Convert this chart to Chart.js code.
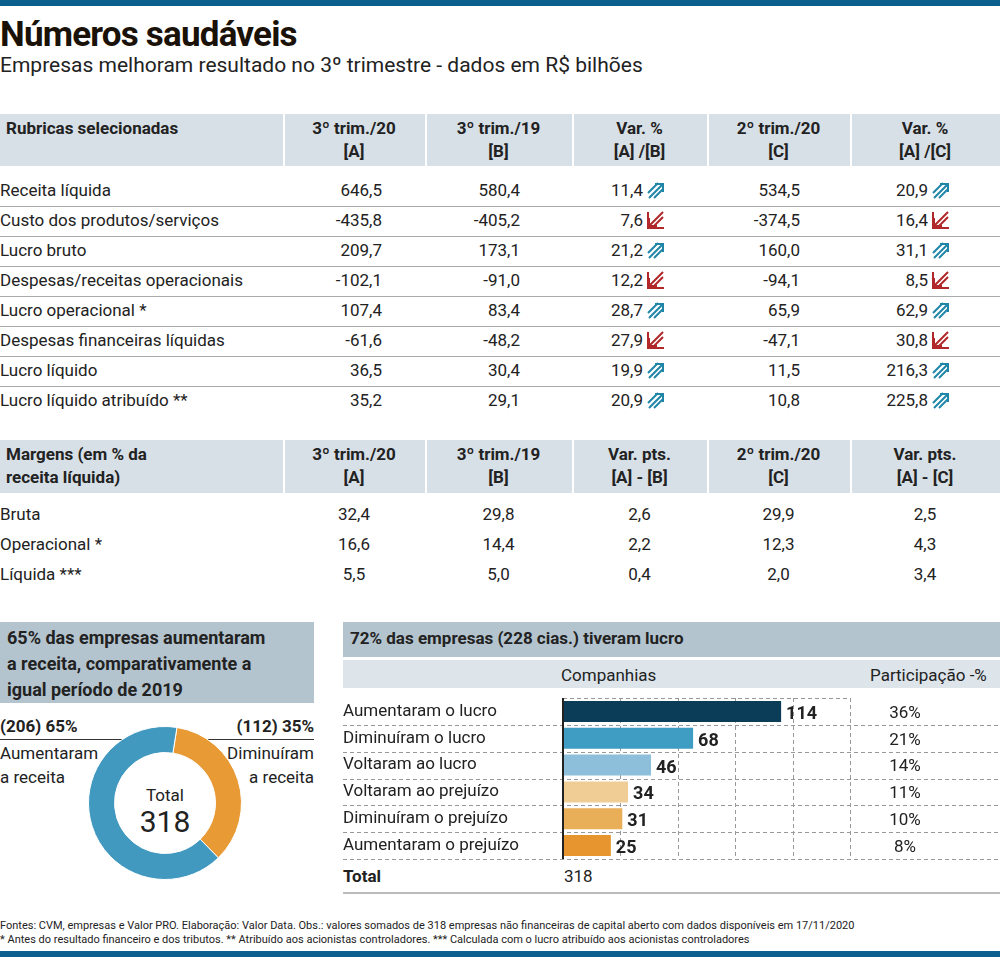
<!DOCTYPE html>
<html><head><meta charset="utf-8">
<script src="https://cdn.jsdelivr.net/npm/chart.js@4"></script>
<style>
body{margin:0;width:1000px;height:957px;position:relative;background:#fff;font-family:"Liberation Sans Narrow","Roboto",sans-serif;color:#222;overflow:hidden}
.a{position:absolute;white-space:nowrap}
.b{font-weight:bold}
</style></head><body>
<script>
// ---------- DATA ----------
const mainHeaders=["Rubricas selecionadas","3º trim./20\n[A]","3º trim./19\n[B]","Var. %\n[A] /[B]","2º trim./20\n[C]","Var. %\n[A] /[C]"];
const rubricas=["Receita líquida","Custo dos produtos/serviços","Lucro bruto","Despesas/receitas operacionais","Lucro operacional *","Despesas financeiras líquidas","Lucro líquido","Lucro líquido atribuído **"];
const trim3_20=["646,5","-435,8","209,7","-102,1","107,4","-61,6","36,5","35,2"];
const trim3_19=["580,4","-405,2","173,1","-91,0","83,4","-48,2","30,4","29,1"];
const varAB=["11,4","7,6","21,2","12,2","28,7","27,9","19,9","20,9"];
const trim2_20=["534,5","-374,5","160,0","-94,1","65,9","-47,1","11,5","10,8"];
const varAC=["20,9","16,4","31,1","8,5","62,9","30,8","216,3","225,8"];
const arrowUp=[true,false,true,false,true,false,true,true];
const margHeaders=["Margens (em % da\nreceita líquida)","3º trim./20\n[A]","3º trim./19\n[B]","Var. pts.\n[A] - [B]","2º trim./20\n[C]","Var. pts.\n[A] - [C]"];
const margens=["Bruta","Operacional *","Líquida ***"];
const mA=["32,4","16,6","5,5"],mB=["29,8","14,4","5,0"],mVAB=["2,6","2,2","0,4"],mC=["29,9","12,3","2,0"],mVAC=["2,5","4,3","3,4"];
const donutLabels=["Diminuíram a receita","Aumentaram a receita"];
const donutValues=[112,206];
const barLabels=["Aumentaram o lucro","Diminuíram o lucro","Voltaram ao lucro","Voltaram ao prejuízo","Diminuíram o prejuízo","Aumentaram o prejuízo"];
const barValues=[114,68,46,34,31,25];
const barShares=["36%","21%","14%","11%","10%","8%"];
const barTicks=[0,30,60,90,120,150];

// ---------- LAYOUT ----------
function T(txt,x,y,o={}){const d=document.createElement('div');d.className='a';d.textContent=txt;
 Object.assign(d.style,{left:x+'px',top:y+'px',fontSize:(o.fs||17)+'px'},o.st||{});
 if(o.b)d.style.fontWeight='bold';document.body.appendChild(d);return d;}
function R(x,y,w,h,st){const d=document.createElement('div');d.className='a';Object.assign(d.style,{left:x+'px',top:y+'px',width:w+'px',height:h+'px'},st);document.body.appendChild(d);return d;}
R(0,0,1000,6,{background:'#0b5f8c'});
R(0,951,1000,6,{background:'#0b5f8c'});
T("Números saudáveis",0,14,{fs:35,b:true,st:{color:'#1a1208',letterSpacing:'-0.8px',fontWeight:'900'}});
T("Empresas melhoram resultado no 3º trimestre - dados em R$ bilhões",0,53,{fs:21,st:{color:'#222'}});
const colX=[[0,283],[283,425],[425,572],[572,707],[707,850],[850,1000]];
function header(y,h,hdr){R(0,y,1000,h,{background:'#d8e0e7'});
 for(let i=1;i<6;i++)R(colX[i][0],y,2,h,{background:'#fff'});
 hdr.forEach((t,i)=>{const d=T(t,i==0?6:colX[i][0],y+3,{fs:17,b:true,st:{whiteSpace:'pre',lineHeight:'23px',width:i==0?'260px':(colX[i][1]-colX[i][0])+'px',textAlign:i==0?'left':'center'}});});}
header(114,52,mainHeaders);
function arrow(x,y,up){const c=up?'#1f86a8':'#b0282a';
 const s=up?`<svg width="20" height="18"><path d="M3 17 L17 3 M9 3 H17 V11 M2 12 L12 2" stroke="${c}" stroke-width="2" fill="none"/><path d="M8 17 L17 8" stroke="${c}" stroke-width="2"/></svg>`
 :`<svg width="20" height="18"><path d="M17 1 L3 15 M3 7 V15 H11 M17 6 L7 16" stroke="${c}" stroke-width="2" fill="none"/><path d="M2 1 V17 H18" stroke="${c}" stroke-width="2" fill="none"/></svg>`;
 const d=document.createElement('div');d.className='a';d.style.left=x+'px';d.style.top=y+'px';d.innerHTML=s;document.body.appendChild(d);}
function rcell(t,right,y){T(t,right-120,y,{st:{width:'120px',textAlign:'right'}});}
rubricas.forEach((r,i)=>{const y=180+i*30;
 T(r,0,y);rcell(trim3_20[i],382,y);rcell(trim3_19[i],520,y);rcell(varAB[i],643,y);arrow(646,y+1,arrowUp[i]);
 rcell(trim2_20[i],800,y);rcell(varAC[i],928,y);arrow(931,y+1,arrowUp[i]);
 if(i<rubricas.length-1)R(0,y+26,1000,1,{background:'#aaa'});});
header(440,53,margHeaders);
function ccell(t,i,y){T(t,colX[i][0],y,{st:{width:(colX[i][1]-colX[i][0])+'px',textAlign:'center'}});}
margens.forEach((m,i)=>{const y=504+i*30;T(m,0,y);ccell(mA[i],1,y);ccell(mB[i],2,y);ccell(mVAB[i],3,y);ccell(mC[i],4,y);ccell(mVAC[i],5,y);});
// bottom left
R(0,622,314,81,{background:'#b4c4ce'});
T("65% das empresas aumentaram\na receita, comparativamente a\nigual período de 2019",7,625,{fs:18,b:true,st:{whiteSpace:'pre',lineHeight:'26px'}});
T("("+donutValues[1]+") "+Math.round(donutValues[1]/(donutValues[0]+donutValues[1])*100)+"%",0,716,{fs:17,b:true,st:{lineHeight:'20px'}});
T("("+donutValues[0]+") "+Math.round(donutValues[0]/(donutValues[0]+donutValues[1])*100)+"%",194,716,{fs:17,b:true,st:{width:'120px',textAlign:'right',lineHeight:'20px'}});
R(0,739,148,1,{background:'#333'});R(147,739,1,10,{background:'#333'});
R(187,739,127,1,{background:'#333'});R(187,739,1,10,{background:'#333'});
T("Aumentaram\na receita",0,741,{fs:17,st:{whiteSpace:'pre',lineHeight:'24px'}});
T("Diminuíram\na receita",194,741,{fs:17,st:{whiteSpace:'pre',lineHeight:'24px',width:'120px',textAlign:'right'}});
T("Total",115,785,{fs:17,st:{width:'100px',textAlign:'center',lineHeight:'20px'}});
T(String(donutValues[0]+donutValues[1]),115,806,{fs:30,st:{width:'100px',textAlign:'center',lineHeight:'32px'}});
// bottom right
R(343,622,657,35,{background:'#b4c4ce'});
T("72% das empresas (228 cias.) tiveram lucro",350,628,{fs:17,b:true});
R(343,660,657,28,{background:'#dde4ea'});
T("Companhias",561,665,{fs:17});T("Participação -%",870,665,{fs:17});
T("Total",343,866,{fs:17,b:true});T(String(barValues.reduce((a,b)=>a+b,0)),564,866,{fs:17});
R(343,892,657,2,{background:'#bbb'});
T("Fontes: CVM, empresas e Valor PRO. Elaboração: Valor Data. Obs.: valores somados de 318 empresas não financeiras de capital aberto com dados disponíveis em 17/11/2020",0,919,{fs:11});
T("* Antes do resultado financeiro e dos tributos. ** Atribuído aos acionistas controladores. *** Calculada com o lucro atribuído aos acionistas controladores",0,933,{fs:11});

// donut
const dc=document.createElement('canvas');dc.className='a';dc.style.left='85px';dc.style.top='723px';dc.width=160;dc.height=160;dc.style.width='160px';dc.style.height='160px';document.body.appendChild(dc);
new Chart(dc,{type:'doughnut',data:{labels:donutLabels,datasets:[{data:donutValues,backgroundColor:['#e89a35','#4199bf'],borderColor:'#fff',borderWidth:1}]},
 options:{responsive:false,animation:false,cutout:'66%',rotation:9,plugins:{legend:{display:false},tooltip:{enabled:false}},layout:{padding:3}}});

// bars
const bc=document.createElement('canvas');bc.className='a';bc.style.left='343px';bc.style.top='697px';bc.width=657;bc.height=163;bc.style.width='657px';bc.style.height='163px';document.body.appendChild(bc);
const FONT='"Liberation Sans Narrow", Roboto, sans-serif';
new Chart(bc,{type:'bar',data:{labels:barLabels,datasets:[{data:barValues,backgroundColor:['#0b3c58','#3f9cc3','#8dbfdb','#f0cd95','#e9ae58','#e6952f'],barPercentage:0.78,categoryPercentage:1}]},
 options:{indexAxis:'y',responsive:false,animation:false,layout:{padding:{left:220,right:150,top:1,bottom:1}},
  scales:{x:{min:0,max:150,display:false},y:{display:false}},plugins:{legend:{display:false},tooltip:{enabled:false}}},
 plugins:[{id:'deco',beforeDatasetsDraw(c){const g=c.ctx,a=c.chartArea,x=c.scales.x,y=c.scales.y;g.save();
   g.strokeStyle='#999';g.lineWidth=1;g.setLineDash([4,3]);
   barTicks.slice(1).forEach(t=>{const px=Math.round(x.getPixelForValue(t))+.5;g.beginPath();g.moveTo(px,a.top);g.lineTo(px,a.bottom);g.stroke();});
   const rh=(a.bottom-a.top)/barLabels.length;
   g.beginPath();g.moveTo(x.getPixelForValue(0),a.top+.5);g.lineTo(x.getPixelForValue(150),a.top+.5);g.stroke();
   for(let i=1;i<=barLabels.length;i++){const py=Math.round(a.top+i*rh)+.5;g.beginPath();g.moveTo(0,py);g.lineTo(c.width,py);g.stroke();}
   g.restore();},
  afterDatasetsDraw(c){const g=c.ctx,a=c.chartArea,x=c.scales.x,y=c.scales.y;g.save();
   g.fillStyle='#222';g.fillRect(Math.round(x.getPixelForValue(0))-1,a.top,2,a.bottom-a.top);
   g.textBaseline='middle';
   barLabels.forEach((l,i)=>{const py=y.getPixelForValue(i);
    g.font='17px '+FONT;g.textAlign='left';g.fillStyle='#222';g.fillText(l,0,py);
    g.textAlign='center';g.fillText(barShares[i],562,py+2);
    g.font='bold 18px '+FONT;g.textAlign='left';g.fillText(String(barValues[i]),x.getPixelForValue(barValues[i])+5,py+3);});
   g.restore();}}]});
</script>
</body></html>
